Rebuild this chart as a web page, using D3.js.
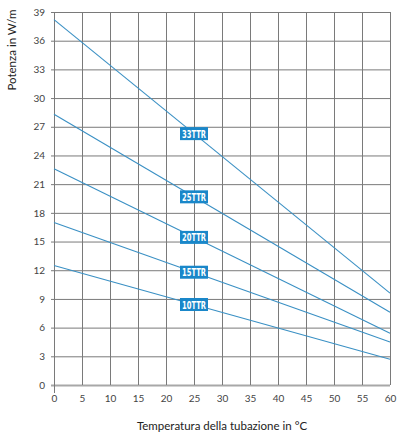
<!DOCTYPE html>
<html>
<head>
<meta charset="utf-8">
<script src="https://cdn.jsdelivr.net/npm/d3@7"></script>
<style>
  body { margin: 0; background: #fff; }
  svg { display: block; }
</style>
</head>
<body>
<div id="chart"></div>
<script>
// temperature ends of each line (°C)
const temps = [0, 60];

// series names and power (W/m) at 0 °C and 60 °C
const seriesNames = ["33TTR", "25TTR", "20TTR", "15TTR", "10TTR"];
const powerAt0 = [38.2, 28.3, 22.6, 17.0, 12.5];
const powerAt60 = [9.6, 7.6, 5.4, 4.5, 2.7];

// where the name boxes sit along the lines (°C)
const labelTemp = 25;

// tick labels
const xTicks = [0, 5, 10, 15, 20, 25, 30, 35, 40, 45, 50, 55, 60];
const yTicks = [0, 3, 6, 9, 12, 15, 18, 21, 24, 27, 30, 33, 36, 39];

const xLabel = "Temperatura della tubazione in °C";
const yLabel = "Potenza in W/m";

const width = 400;
const height = 436;
const marginTop = 12;
const marginRight = 10;
const marginBottom = 51;
const marginLeft = 54;

const lineColor = "#3a90c4";
const boxColor = "#1a87c9";
const gridColor = "#7a7a7a";
const font = "Lato, 'Open Sans', sans-serif";

const svg = d3.select("#chart")
  .append("svg")
  .attr("width", width)
  .attr("height", height)
  .attr("viewBox", [0, 0, width, height]);

const x = d3.scaleLinear([0, 60], [marginLeft, width - marginRight]);
const y = d3.scaleLinear([0, 39], [height - marginBottom, marginTop]);

// horizontal grid + y axis
const yAxis = d3.axisLeft(y).tickValues(yTicks).tickSize(3).tickPadding(6);
svg.append("g")
  .attr("class", "y-axis")
  .attr("transform", `translate(${marginLeft},0)`)
  .call(yAxis)
  .call(g => g.select(".domain").remove())
  .call(g => g.selectAll(".tick line")
    .attr("x1", -3)
    .attr("x2", x(60) - marginLeft)
    .attr("stroke", d => d === 0 ? "#a8a8a8" : gridColor)
    .attr("stroke-width", d => d === 0 ? 2 : 1))
  .call(g => g.selectAll(".tick text")
    .attr("fill", "#444")
    .style("font-family", font)
    .style("font-size", "10px"));

// vertical grid + x axis
const xAxis = d3.axisBottom(x).tickValues(xTicks).tickSize(0).tickPadding(10);
svg.append("g")
  .attr("class", "x-axis")
  .attr("transform", `translate(0,${y(0)})`)
  .call(xAxis)
  .call(g => g.select(".domain").remove())
  .call(g => g.selectAll(".tick line")
    .attr("y1", d => d === 0 ? 8 : 0)
    .attr("y2", y(39) - y(0))
    .attr("stroke", gridColor)
    .attr("stroke-width", 1))
  .call(g => g.selectAll(".tick text")
    .attr("fill", "#444")
    .style("font-family", font)
    .style("font-size", "10px"));

// lines
const line = d3.line().x(d => x(d[0])).y(d => y(d[1]));
const series = seriesNames.map((name, i) => ({
  name,
  points: [[temps[0], powerAt0[i]], [temps[1], powerAt60[i]]]
}));

svg.append("g")
  .attr("class", "lines")
  .selectAll("path")
  .data(series)
  .join("path")
  .attr("fill", "none")
  .attr("stroke", lineColor)
  .attr("stroke-width", 1.1)
  .attr("d", d => line(d.points));

// name boxes on the lines
const valueAt = (d, t) => d.points[0][1] + (d.points[1][1] - d.points[0][1]) * (t - d.points[0][0]) / (d.points[1][0] - d.points[0][0]);

const labels = svg.append("g")
  .attr("class", "labels")
  .selectAll("g")
  .data(series)
  .join("g")
  .attr("transform", d => `translate(${x(labelTemp)},${y(valueAt(d, labelTemp))})`);

labels.append("rect")
  .attr("x", -14)
  .attr("y", -6.5)
  .attr("width", 28)
  .attr("height", 13)
  .attr("fill", boxColor);

labels.append("text")
  .attr("text-anchor", "middle")
  .attr("x", 0)
  .attr("y", 4)
  .attr("fill", "#fff")
  .attr("font-family", "'DejaVu Sans', sans-serif")
  .attr("font-weight", "bold")
  .attr("font-size", 10.5)
  .attr("textLength", 24)
  .attr("lengthAdjust", "spacingAndGlyphs")
  .text(d => d.name);

// axis titles
svg.append("text")
  .attr("x", (x(0) + x(60)) / 2)
  .attr("y", 430)
  .attr("text-anchor", "middle")
  .attr("fill", "#222")
  .attr("font-family", font)
  .attr("font-size", 11.5)
  .text(xLabel);

svg.append("text")
  .attr("transform", "translate(16,50) rotate(-90)")
  .attr("text-anchor", "middle")
  .attr("fill", "#222")
  .attr("font-family", font)
  .attr("font-size", 11.5)
  .text(yLabel);
</script>
</body>
</html>
